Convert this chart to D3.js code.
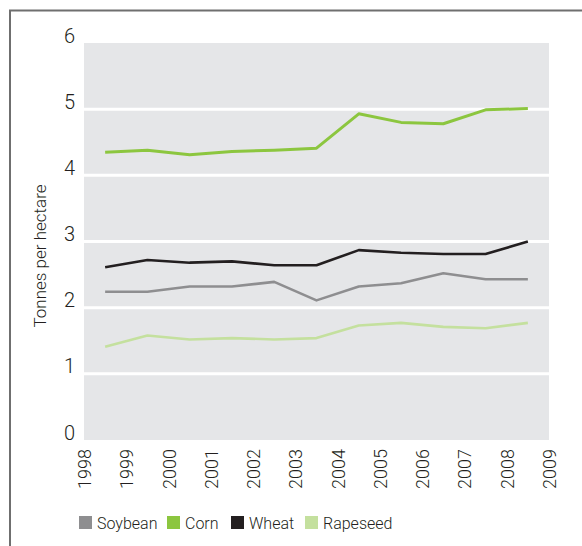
<!DOCTYPE html>
<html>
<head>
<meta charset="utf-8">
<script src="https://cdn.jsdelivr.net/npm/d3@7"></script>
<style>
  body { margin: 0; background: #fff; }
  svg text { font-family: Roboto, "Liberation Sans Narrow", sans-serif; font-weight: 300; fill: #231f20; }
</style>
</head>
<body>
<svg id="chart" width="582" height="546"></svg>
<script>
// data
const years = [1998, 1999, 2000, 2001, 2002, 2003, 2004, 2005, 2006, 2007, 2008];
const yearTicks = [1998, 1999, 2000, 2001, 2002, 2003, 2004, 2005, 2006, 2007, 2008, 2009];
const yTicks = [0, 1, 2, 3, 4, 5, 6];
const seriesNames = ["Soybean", "Corn", "Wheat", "Rapeseed"];
const soybean = [2.24, 2.24, 2.32, 2.32, 2.39, 2.11, 2.32, 2.37, 2.52, 2.43, 2.43];
const corn = [4.35, 4.38, 4.31, 4.36, 4.38, 4.41, 4.93, 4.80, 4.78, 4.99, 5.01];
const wheat = [2.61, 2.72, 2.68, 2.70, 2.64, 2.64, 2.87, 2.83, 2.81, 2.81, 3.00];
const rapeseed = [1.41, 1.58, 1.52, 1.54, 1.52, 1.54, 1.73, 1.77, 1.71, 1.69, 1.77];

const colors = ["#8e8e90", "#8cc63f", "#231f20", "#c4e09e"];
const series = [soybean, corn, wheat, rapeseed];

const svg = d3.select("#chart");

// frame (left and top edges only visible)
svg.append("path")
  .attr("d", "M10,546 V10.5 H582")
  .attr("fill", "none")
  .attr("stroke", "#6f6f6f")
  .attr("stroke-width", 2);

const plotLeft = 84, plotRight = 549, plotTop = 43, plotBottom = 440;

const x = d3.scaleLinear()
  .domain([1998, 2009])
  .range([plotLeft, plotRight]);

const y = d3.scaleLinear()
  .domain([0, 6])
  .range([plotBottom, plotTop]);

// background
svg.append("rect")
  .attr("x", plotLeft)
  .attr("y", plotTop)
  .attr("width", plotRight - plotLeft)
  .attr("height", plotBottom - plotTop)
  .attr("fill", "#e5e6e8");

// gridlines
svg.append("g")
  .selectAll("line")
  .data(yTicks.filter(d => d > 0 && d < 6))
  .enter()
  .append("line")
  .attr("x1", plotLeft)
  .attr("x2", plotRight)
  .attr("y1", d => y(d))
  .attr("y2", d => y(d))
  .attr("stroke", "#fff")
  .attr("stroke-width", 3);

// y axis labels
const yAxis = svg.append("g")
  .attr("transform", "translate(" + plotLeft + ",0)")
  .call(d3.axisLeft(y).tickValues(yTicks).tickFormat(d3.format("d")).tickSize(0).tickPadding(9));
yAxis.select(".domain").remove();
yAxis.selectAll("text")
  .attr("dy", "-0.05em")
  .style("font-size", "20px");

// x axis labels (rotated)
const xAxis = svg.append("g")
  .attr("transform", "translate(0," + plotBottom + ")")
  .call(d3.axisBottom(x).tickValues(yearTicks).tickFormat(d3.format("d")).tickSize(0));
xAxis.select(".domain").remove();
xAxis.selectAll("text")
  .attr("transform", "rotate(-90)")
  .attr("x", -9)
  .attr("y", 0)
  .attr("dy", "0.36em")
  .style("text-anchor", "end")
  .style("font-size", "18px");

// y axis title
svg.append("text")
  .attr("transform", "translate(46,256) rotate(-90)")
  .style("text-anchor", "middle")
  .style("font-size", "17px")
  .text("Tonnes per hectare");

// lines
const line = d3.line()
  .x((d, i) => x(years[i] + 0.5))
  .y(d => y(d));

svg.append("g")
  .selectAll("path")
  .data(series)
  .enter()
  .append("path")
  .attr("d", line)
  .attr("fill", "none")
  .attr("stroke", (d, i) => colors[i])
  .attr("stroke-width", (d, i) => i === 1 ? 3 : 2.6)
  .attr("stroke-linejoin", "round");

// legend
const legendX = [79, 167, 231, 305];
const legend = svg.append("g")
  .selectAll("g")
  .data(seriesNames)
  .enter()
  .append("g")
  .attr("transform", (d, i) => "translate(" + legendX[i] + ",516)");

legend.append("rect")
  .attr("width", 13)
  .attr("height", 13)
  .attr("fill", (d, i) => colors[i]);

legend.append("text")
  .attr("x", 18)
  .attr("y", 7)
  .attr("dy", "0.35em")
  .style("font-size", "16px")
  .text(d => d);
</script>
</body>
</html>
